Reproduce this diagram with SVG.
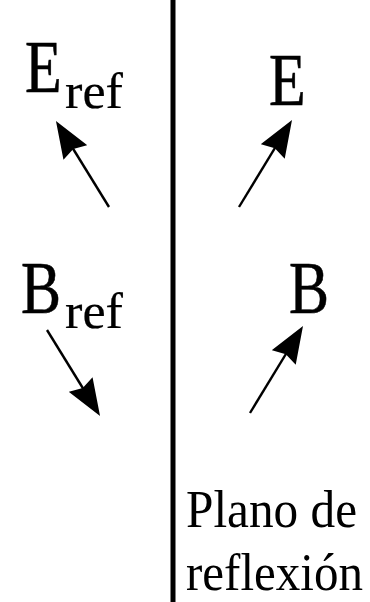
<svg xmlns="http://www.w3.org/2000/svg" width="370" height="602" viewBox="0 0 370 602">
<style>
.big{font-family:"Liberation Serif","Times New Roman",serif;font-size:60px;fill:#000;stroke:#000;stroke-width:0.5}
.sub{font-family:"Liberation Serif","Times New Roman",serif;font-size:42px;fill:#000;stroke:#000;stroke-width:0.2}
.lbl{font-family:"Liberation Serif","Times New Roman",serif;font-size:46px;fill:#000}
.arr{stroke:#000;stroke-width:2.4;fill:none;marker-end:url(#head)}
</style>
<defs>
<marker id="head" markerUnits="userSpaceOnUse" viewBox="0 0 37 28" markerWidth="37" markerHeight="28" refX="27" refY="14" orient="auto">
<path d="M0,0 L37,14 L0,28 L4,14 Z" fill="#000"/>
</marker>
</defs>
<rect width="370" height="602" fill="#fff"/>
<g id="plane">
<line x1="173" y1="0" x2="173" y2="602" stroke="#000" stroke-width="5"/>
</g>
<g id="Eref">
<text class="big" transform="translate(25,92) scale(1,1.22)">E</text>
<text class="sub" transform="translate(65,108) scale(1,1.22)" textLength="58" lengthAdjust="spacingAndGlyphs">ref</text>
</g>
<g id="E">
<text class="big" transform="translate(269,105) scale(1,1.22)">E</text>
</g>
<g id="Bref">
<text class="big" transform="translate(21,313) scale(1,1.22)">B</text>
<text class="sub" transform="translate(65,328) scale(1,1.22)" textLength="58" lengthAdjust="spacingAndGlyphs">ref</text>
</g>
<g id="B">
<text class="big" transform="translate(289,313) scale(1,1.22)">B</text>
</g>
<g id="label">
<text class="lbl" transform="translate(186,527) scale(1,1.15)" textLength="171" lengthAdjust="spacingAndGlyphs">Plano de</text>
<text class="lbl" transform="translate(186,590) scale(1,1.15)" textLength="177" lengthAdjust="spacingAndGlyphs">reflexión</text>
</g>
<g id="connectors">
<line class="arr" x1="109" y1="207" x2="61.2" y2="129.5"/>
<line class="arr" x1="239" y1="207" x2="286.8" y2="128.5"/>
<line class="arr" x1="47" y1="330" x2="94.8" y2="407.5"/>
<line class="arr" x1="250" y1="413" x2="297.8" y2="334.5"/>
</g>
</svg>
